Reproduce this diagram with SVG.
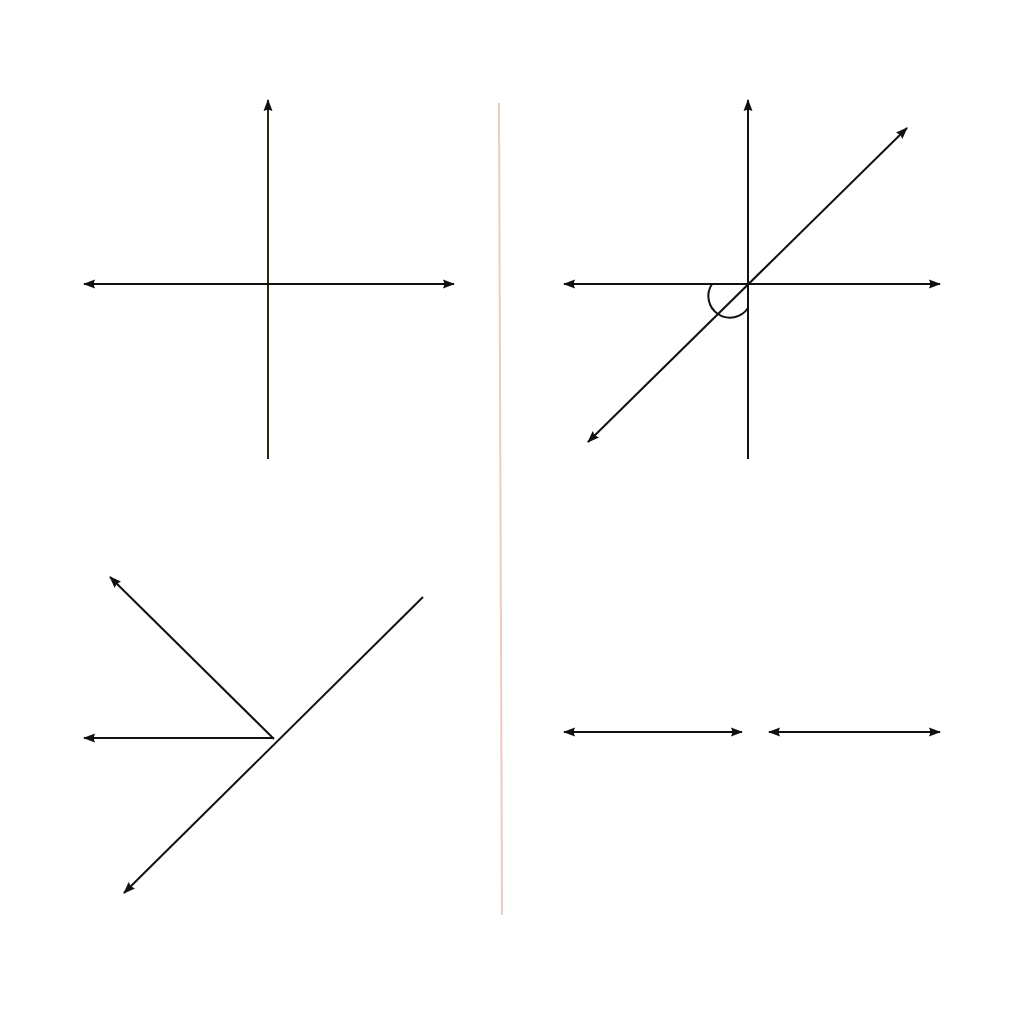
<svg xmlns="http://www.w3.org/2000/svg" width="1024" height="1024" viewBox="0 0 1024 1024">
<defs>
<marker id="ah" viewBox="0 0 12 10" refX="11" refY="5" markerWidth="12" markerHeight="10" markerUnits="userSpaceOnUse" orient="auto-start-reverse">
<path d="M0,0.5 L12,5 L0,9.5 L1.5,5 Z" fill="#111"/>
</marker>
<style>
.ln{stroke:#111;stroke-width:2;fill:none}
.dbl{marker-start:url(#ah);marker-end:url(#ah)}
.end{marker-end:url(#ah)}
</style>
</defs>
<rect width="1024" height="1024" fill="#fff"/>
<line x1="499" y1="103" x2="502" y2="915" stroke="#ecccc0" stroke-width="2"/>
<g id="connectors">
<g id="panel-tl">
<line class="ln end" x1="268" y1="459" x2="268" y2="100" style="stroke:#2b2a08"/>
<line class="ln dbl" x1="84" y1="284" x2="454" y2="284"/>
</g>
<g id="panel-tr">
<line class="ln end" x1="748" y1="459" x2="748" y2="100"/>
<line class="ln dbl" x1="564" y1="284" x2="940" y2="284"/>
<line class="ln dbl" x1="588" y1="442" x2="907" y2="128"/>
<path class="ln" d="M712,284 A21,21 0 0 0 748,308"/>
</g>
<g id="panel-bl">
<line class="ln" x1="124" y1="893" x2="423" y2="597" style="marker-start:url(#ah)"/>
<line class="ln end" x1="274" y1="738" x2="84" y2="738"/>
<line class="ln end" x1="274" y1="739" x2="110" y2="577"/>
</g>
<g id="panel-br">
<line class="ln dbl" x1="564" y1="732" x2="742" y2="732"/>
<line class="ln dbl" x1="769" y1="732" x2="940" y2="732"/>
</g>
</g>
</svg>
